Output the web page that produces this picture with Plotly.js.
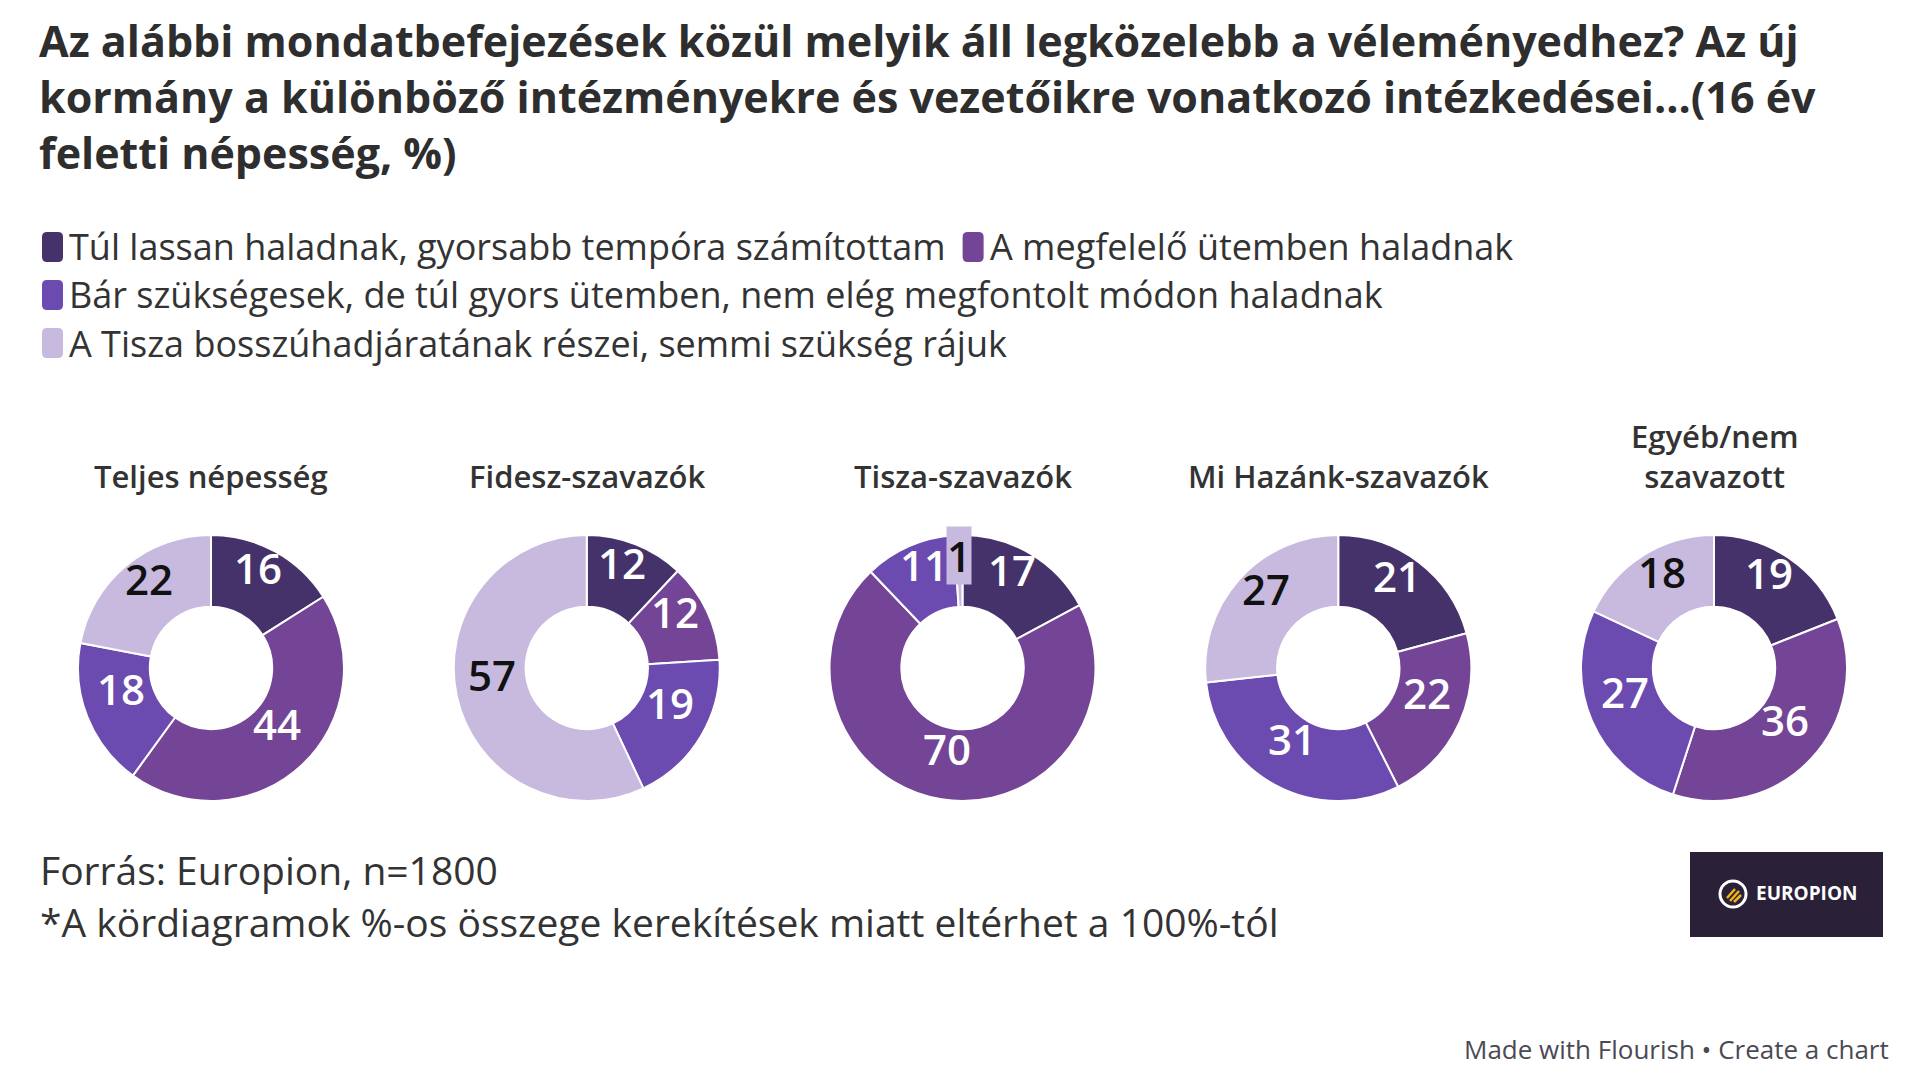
<!DOCTYPE html>
<html>
<head>
<meta charset="utf-8">
<script src="https://cdn.plot.ly/plotly-3.0.1.min.js"></script>
<style>
  html, body { margin: 0; padding: 0; background: #ffffff; }
  #chart { width: 1920px; height: 1084px; }
</style>
</head>
<body>
<div id="chart"></div>
<script>
// Respondent groups (one donut each)
const groups = ['Teljes népesség', 'Fidesz-szavazók', 'Tisza-szavazók', 'Mi Hazánk-szavazók', 'Egyéb/nem<br>szavazott'];

// Answer options (legend order = slice order, clockwise from 12 o'clock)
const answers = [
  'Túl lassan haladnak, gyorsabb tempóra számítottam',
  'A megfelelő ütemben haladnak',
  'Bár szükségesek, de túl gyors ütemben, nem elég megfontolt módon haladnak',
  'A Tisza bosszúhadjáratának részei, semmi szükség rájuk'
];

// Shares per group, %
const tooSlow     = [16, 12, 17, 21, 19];
const appropriate = [44, 12, 70, 22, 36];
const tooFast     = [18, 19, 11, 31, 27];
const revenge     = [22, 57,  1, 27, 18];

const titleText = 'Az alábbi mondatbefejezések közül melyik áll legközelebb a véleményedhez? Az új<br>' +
                  'kormány a különböző intézményekre és vezetőikre vonatkozó intézkedései...(16 év<br>' +
                  'feletti népesség, %)';
const sourceText = 'Forrás: Europion, n=1800';
const noteText = '*A kördiagramok %-os összege kerekítések miatt eltérhet a 100%-tól';
const brandText = 'EUROPION';
const creditText = 'Made with Flourish • Create a chart';

// ---- styling ----
const W = 1920, H = 1084;
const FONT = '"Open Sans", "Noto Sans", sans-serif';
const TEXT = '#333333';
const colors = ['#46326b', '#744596', '#6b4bb0', '#c8b9df'];
const labelColors = ['#ffffff', '#ffffff', '#ffffff', '#111111'];

const px = x => x / W;          // pixel -> paper (x)
const py = y => 1 - y / H;      // pixel -> paper (y)

// donut geometry
const firstCx = 211, stepCx = 375.75, cy = 668, radius = 133, halfDomainW = 185, hole = 0.46;
const ringMid = radius * (1 + hole) / 2;   // labels sit on the middle of the ring
const labelLift = 15;                      // value labels ride slightly above the ring middle
const tinySlice = 5;                       // labels of slices this small get a backing box

const series = [tooSlow, appropriate, tooFast, revenge];
const traces = groups.map((g, i) => {
  const cx = firstCx + i * stepCx;
  return {
    type: 'pie',
    name: g.replace('<br>', ' '),
    labels: answers,
    values: series.map(s => s[i]),
    sort: false,
    direction: 'clockwise',
    rotation: 0,
    hole: hole,
    showlegend: false,
    textinfo: 'none',
    marker: { colors: colors, line: { color: '#ffffff', width: 2 } },
    hovertemplate: '%{label}<br>%{value}%<extra>' + g.replace('<br>', ' ') + '</extra>',
    domain: {
      x: [px(cx - halfDomainW), px(cx + halfDomainW)],
      y: [py(cy + radius), py(cy - radius)]
    }
  };
});

const annotations = [];
const shapes = [];

// chart title
annotations.push({
  text: titleText, xref: 'paper', yref: 'paper',
  x: px(38), y: py(96), xanchor: 'left', yanchor: 'middle', align: 'left',
  showarrow: false, borderpad: 0,
  font: { family: FONT, size: 43, weight: 700, color: '#2e2e2e' }
});

// group titles above each donut (bottom-aligned)
groups.forEach((g, i) => {
  annotations.push({
    text: g, xref: 'paper', yref: 'paper',
    x: px(firstCx + i * stepCx), y: py(499),
    xanchor: 'center', yanchor: 'bottom', showarrow: false,
    font: { family: FONT, size: 31, weight: 600, color: TEXT }
  });
});

// value labels on each slice, placed at the slice's mid-angle on the ring
const boxedLabels = [];
groups.forEach((g, i) => {
  const cx = firstCx + i * stepCx;
  const vals = series.map(s => s[i]);
  const total = vals.reduce((a, b) => a + b, 0);
  let cum = 0;
  vals.forEach((v, k) => {
    const ang = (cum + v / 2) / total * 2 * Math.PI;
    cum += v;
    const ann = {
      text: String(v), xref: 'paper', yref: 'paper',
      x: px(cx + ringMid * Math.sin(ang)),
      y: py(cy - ringMid * Math.cos(ang) - labelLift),
      xanchor: 'center', yanchor: 'middle', showarrow: false, borderpad: 0,
      font: { family: FONT, size: 42, weight: 600, color: labelColors[k] }
    };
    if (v < tinySlice) { ann.bgcolor = colors[k]; boxedLabels.push(ann); }
    else annotations.push(ann);
  });
});
boxedLabels.forEach(a => annotations.push(a));

// legend: rounded swatches + labels, wrapped into three rows
const legendFontSize = 36;
const measure = (() => {
  const ctx = document.createElement('canvas').getContext('2d');
  return (t, size, weight) => { ctx.font = `${weight || 400} ${size}px "Open Sans"`; return ctx.measureText(t).width; };
})();
const legendRows = [[0, 1], [2], [3]];
const rowY = [247, 295, 343];
const swW = 21, swH = 30, swR = 5;
function roundRect(x, y, w, h, r) {
  // path in paper coordinates built from pixel geometry
  const X = v => px(v), Y = v => py(v);
  return `M${X(x + r)},${Y(y)} L${X(x + w - r)},${Y(y)} Q${X(x + w)},${Y(y)} ${X(x + w)},${Y(y + r)} ` +
         `L${X(x + w)},${Y(y + h - r)} Q${X(x + w)},${Y(y + h)} ${X(x + w - r)},${Y(y + h)} ` +
         `L${X(x + r)},${Y(y + h)} Q${X(x)},${Y(y + h)} ${X(x)},${Y(y + h - r)} ` +
         `L${X(x)},${Y(y + r)} Q${X(x)},${Y(y)} ${X(x + r)},${Y(y)} Z`;
}
legendRows.forEach((row, r) => {
  let x = 42;
  row.forEach(k => {
    shapes.push({
      type: 'path', xref: 'paper', yref: 'paper',
      path: roundRect(x, rowY[r] - swH / 2, swW, swH, swR),
      fillcolor: colors[k], line: { width: 0 }
    });
    annotations.push({
      text: answers[k], xref: 'paper', yref: 'paper',
      x: px(x + swW + 5), y: py(rowY[r]),
      xanchor: 'left', yanchor: 'middle', showarrow: false, borderpad: 0,
      font: { family: FONT, size: legendFontSize, color: TEXT }
    });
    x += swW + 5 + measure(answers[k], legendFontSize) + 18;
  });
});

// source and note
annotations.push({
  text: sourceText, xref: 'paper', yref: 'paper', x: px(38), y: py(869),
  xanchor: 'left', yanchor: 'middle', showarrow: false,
  font: { family: FONT, size: 39, color: TEXT }
});
annotations.push({
  text: noteText, xref: 'paper', yref: 'paper', x: px(38), y: py(921),
  xanchor: 'left', yanchor: 'middle', showarrow: false,
  font: { family: FONT, size: 39, color: TEXT }
});

// brand logo box
shapes.push({
  type: 'rect', xref: 'paper', yref: 'paper',
  x0: px(1690), x1: px(1883), y0: py(937), y1: py(852),
  fillcolor: '#2a2139', line: { width: 0 }
});
shapes.push({
  type: 'circle', xref: 'paper', yref: 'paper',
  x0: px(1720), x1: px(1746), y0: py(907), y1: py(881),
  fillcolor: 'rgba(0,0,0,0)', line: { color: '#ffffff', width: 3 }
});
[[-6, 4, 2, -5], [-3, 7, 6, -3], [1, 8, 8, 1]].forEach(([a, b, c, d]) => {
  shapes.push({
    type: 'line', xref: 'paper', yref: 'paper',
    x0: px(1733 + a), y0: py(894 + b), x1: px(1733 + c), y1: py(894 + d),
    line: { color: '#f2b21b', width: 2.5 }
  });
});
annotations.push({
  text: brandText, xref: 'paper', yref: 'paper', x: px(1754), y: py(893),
  xanchor: 'left', yanchor: 'middle', showarrow: false,
  font: { family: FONT, size: 19, weight: 700, color: '#ffffff' }
});

// credit line
annotations.push({
  text: creditText, xref: 'paper', yref: 'paper', x: px(1891), y: py(1049),
  xanchor: 'right', yanchor: 'middle', showarrow: false,
  font: { family: FONT, size: 26, color: '#4a4a55' }
});

const layout = {
  width: W, height: H,
  margin: { l: 0, r: 0, t: 0, b: 0 },
  paper_bgcolor: '#ffffff',
  plot_bgcolor: '#ffffff',
  showlegend: false,
  annotations: annotations,
  shapes: shapes
};

Plotly.newPlot('chart', traces, layout, { displayModeBar: false, responsive: false });
</script>
</body>
</html>
